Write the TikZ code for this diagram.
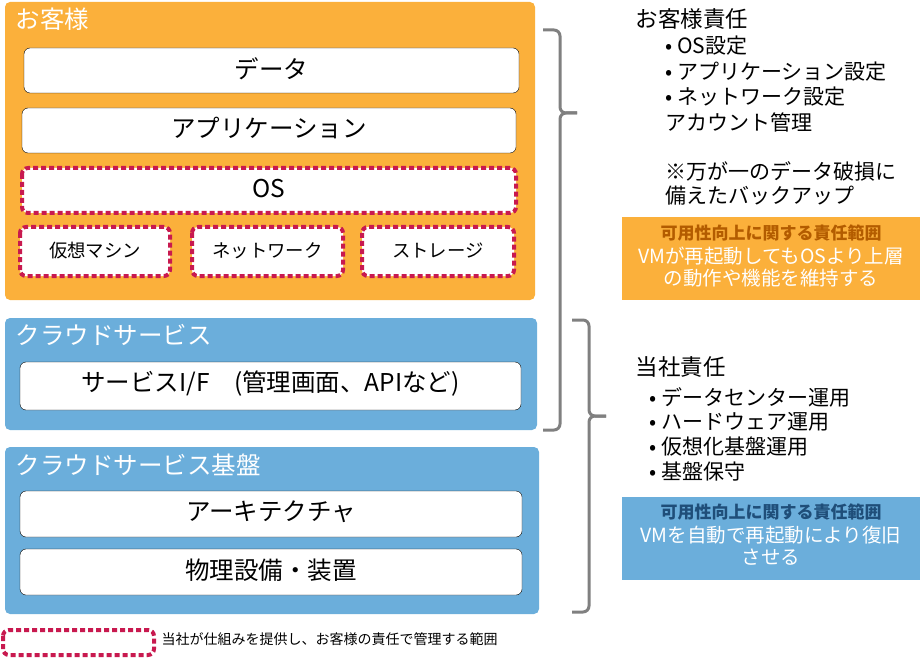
\documentclass[tikz,border=0pt]{standalone}
\usepackage{fontspec}
\setmainfont{Noto Sans CJK JP}
\definecolor{org}{HTML}{FBB03B}
\definecolor{blu}{HTML}{6BAEDB}
\definecolor{dsh}{HTML}{C8194F}
\definecolor{brc}{HTML}{808080}
\definecolor{orgt}{HTML}{B35C00}
\definecolor{blut}{HTML}{1F4E79}
\tikzset{
 wbox/.style={fill=white,rounded corners=6pt},
 dbox/.style={fill=white,rounded corners=6pt,draw=dsh,line width=4pt,dash pattern=on 5pt off 3pt},
 big/.style={font=\fontsize{24.5}{28}\selectfont,yshift=2pt},
 mid/.style={font=\fontsize{18.4}{22}\selectfont,yshift=1pt},
 hdr/.style={font=\fontsize{24.5}{28}\selectfont,text=white,anchor=west},
 rt/.style={font=\fontsize{21}{25}\selectfont,anchor=west},
 ot/.style={font=\fontsize{19.5}{22}\selectfont,text=white},
 brace/.style={draw=brc,line width=3pt,rounded corners=6pt}
}
\begin{document}
\begin{tikzpicture}[x=1pt,y=-1pt]
\useasboundingbox (0,0) rectangle (920,660);
\fill[org,rounded corners=5pt] (5,2) rectangle (535,300);
\node[hdr] (h1) at (12,19) {お客様};
\draw[wbox] (24,48) rectangle (519,93) node[midway,big] (d) {データ};
\draw[wbox] (22,108) rectangle (516,153) node[midway,big] (a) {アプリケーション};
\draw[dbox] (22,168) rectangle (516,213) node[midway,big] (os) {OS};
\draw[dbox] (20,227) rectangle (170,276) node[midway,mid] (vm) {仮想マシン};
\draw[dbox] (192,227) rectangle (343,276) node[midway,mid] (nw) {ネットワーク};
\draw[dbox] (362,227) rectangle (514,276) node[midway,mid] (st) {ストレージ};
\fill[blu,rounded corners=5pt] (5,318) rectangle (537,430);
\node[hdr] (h2) at (12,335) {クラウドサービス};
\draw[wbox] (20,362) rectangle (521,410) node[midway,big] (sv) {サービスI/F\quad(管理画面、APIなど)};
\fill[blu,rounded corners=5pt] (5,447) rectangle (539,614);
\node[hdr] (h3) at (12,465) {クラウドサービス基盤};
\draw[wbox] (20,491) rectangle (522,537) node[midway,big] (ar) {アーキテクチャ};
\draw[wbox] (20,549) rectangle (522,595) node[midway,big] (ph) {物理設備・装置};
\draw[dbox] (3,630) rectangle (154,655);
\node[anchor=west,font=\fontsize{14}{16}\selectfont] (lg) at (158,639) {当社が仕組みを提供し、お客様の責任で管理する範囲};
\draw[brace] (543,30) -- (560,30) -- (560,113) -- (577,113);
\draw[brace] (577,113) -- (560,113) -- (560,430) -- (543,430);
\draw[brace] (572,320) -- (589,320) -- (589,416) -- (606,416);
\draw[brace] (606,416) -- (589,416) -- (589,612) -- (572,612);
\node[rt,font=\fontsize{22.5}{26}\selectfont] (r1) at (632,19) {お客様責任};
\node[rt] (b1) at (662,46) {• OS設定};
\node[rt] (b2) at (662,72) {• アプリケーション設定};
\node[rt] (b3) at (662,97) {• ネットワーク設定};
\node[rt] (b4) at (662,122) {アカウント管理};
\node[rt] (b5) at (662,171) {※万が一のデータ破損に};
\node[rt] (b6) at (662,196) {備えたバックアップ};
\fill[org] (622,217) rectangle (920,300);
\node[font=\bfseries\fontsize{17}{20}\selectfont,text=orgt] (o1) at (771,233) {可用性向上に関する責任範囲};
\node[ot] (o2) at (771,256) {VMが再起動してもOSより上層};
\node[ot] (o3) at (771,278) {の動作や機能を維持する};
\node[rt,font=\fontsize{22.5}{26}\selectfont] (r2) at (632,367) {当社責任};
\node[rt] (c1) at (646,397) {• データセンター運用};
\node[rt] (c2) at (646,422) {• ハードウェア運用};
\node[rt] (c3) at (646,447) {• 仮想化基盤運用};
\node[rt] (c4) at (646,472) {• 基盤保守};
\fill[blu] (622,497) rectangle (920,580);
\node[font=\bfseries\fontsize{17}{20}\selectfont,text=blut] (p1) at (771,512) {可用性向上に関する責任範囲};
\node[ot] (p2) at (771,535) {VMを自動で再起動により復旧};
\node[ot] (p3) at (771,557) {させる};
\end{tikzpicture}
\end{document}
